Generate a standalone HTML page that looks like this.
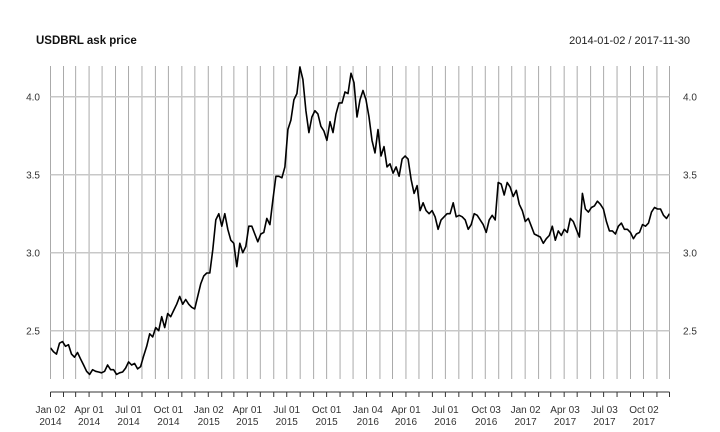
<!DOCTYPE html>
<html><head><meta charset="utf-8"><style>
html,body{margin:0;padding:0;background:#fff;}
svg{display:block;font-family:"Liberation Sans",sans-serif;}
</style></head><body>
<svg id="chart" width="720" height="432">
<text x="36" y="44" font-size="11.5" font-weight="bold" fill="#111">USDBRL ask price</text>
<text x="690" y="44" font-size="11" fill="#222" text-anchor="end">2014-01-02 / 2017-11-30</text>
<g id="grid"></g><g id="series"></g><g id="axes"></g>
</svg>
<script>
const startDate = "2014-01-02";
const endDate = "2017-11-30";
const yTicks = [2.5, 3.0, 3.5, 4.0];
const xLabelDates = ["2014-01-02","2014-04-01","2014-07-01","2014-10-01","2015-01-02","2015-04-01","2015-07-01","2015-10-01","2016-01-04","2016-04-01","2016-07-01","2016-10-03","2017-01-02","2017-04-03","2017-07-03","2017-10-02"];
const prices = [2.39,2.365,2.35,2.42,2.43,2.40,2.41,2.35,2.33,2.36,2.32,2.28,2.24,2.22,2.25,2.24,2.235,2.23,2.24,2.28,2.25,2.25,2.22,2.23,2.235,2.26,2.30,2.28,2.29,2.255,2.27,2.34,2.40,2.48,2.46,2.52,2.50,2.59,2.52,2.61,2.59,2.63,2.67,2.72,2.67,2.70,2.67,2.65,2.64,2.72,2.80,2.85,2.87,2.87,3.02,3.21,3.25,3.17,3.25,3.15,3.08,3.06,2.91,3.06,3.00,3.04,3.17,3.17,3.12,3.07,3.12,3.13,3.22,3.18,3.34,3.49,3.49,3.48,3.55,3.79,3.85,3.98,4.02,4.19,4.11,3.91,3.77,3.87,3.91,3.89,3.81,3.78,3.72,3.84,3.77,3.89,3.96,3.96,4.03,4.02,4.15,4.09,3.87,3.98,4.04,3.98,3.87,3.72,3.64,3.79,3.62,3.68,3.55,3.57,3.51,3.55,3.49,3.60,3.62,3.60,3.47,3.38,3.43,3.27,3.32,3.27,3.25,3.27,3.23,3.15,3.21,3.23,3.25,3.25,3.32,3.23,3.24,3.23,3.21,3.15,3.18,3.25,3.24,3.21,3.18,3.13,3.21,3.24,3.21,3.45,3.44,3.37,3.45,3.42,3.36,3.40,3.31,3.27,3.20,3.22,3.17,3.12,3.11,3.10,3.06,3.09,3.11,3.17,3.08,3.14,3.11,3.15,3.13,3.22,3.20,3.15,3.10,3.38,3.28,3.26,3.29,3.30,3.33,3.31,3.28,3.20,3.14,3.14,3.12,3.17,3.19,3.15,3.15,3.13,3.09,3.12,3.13,3.18,3.17,3.19,3.26,3.29,3.28,3.28,3.24,3.22,3.25];

const NS="http://www.w3.org/2000/svg";
const L=50.5,R=669.5,T=66,B=379,AX=392;
const t0=Date.parse(startDate),t1=Date.parse(endDate);
function xDate(d){return L+(Date.parse(d)-t0)/(t1-t0)*(R-L);}
function xIdx(i){return L+i/(prices.length-1)*(R-L);}
function yVal(v){return 96.7+(4-v)*156;}
function mk(tag,attrs,parent){const e=document.createElementNS(NS,tag);for(const k in attrs)e.setAttribute(k,attrs[k]);parent.appendChild(e);return e;}
const grid=document.getElementById('grid'),axes=document.getElementById('axes'),series=document.getElementById('series');
// monthly grid lines
const months=[];
for(let y=2014;y<=2017;y++)for(let m=0;m<12;m++){const d=new Date(Date.UTC(y,m,1));if(d.getTime()<t0||d.getTime()>t1)continue;months.push(d.toISOString().slice(0,10));}
const gridDates=[startDate].concat(months.filter(d=>d!=="2014-01-01")).concat([endDate]);
gridDates.forEach(d=>{const x=xDate(d);
 const g=mk('line',{x1:x,x2:x,y1:T,y2:B,stroke:'#aaa','stroke-width':1},grid);
 
 
 const tk=mk('line',{x1:x,x2:x,y1:AX,y2:AX+5,stroke:'#333','stroke-width':1},axes);
 
 
});
const axl=mk('line',{x1:L,x2:R,y1:AX,y2:AX,stroke:'#333','stroke-width':1},axes);


yTicks.forEach(v=>{const y=yVal(v);
 const g=mk('line',{x1:L,x2:R,y1:y,y2:y,stroke:'#c8c8c8','stroke-width':1.5},grid);
 
 
 const a=mk('text',{x:40,y:y+4,'font-size':10,fill:'#333','text-anchor':'end'},axes);a.textContent=v.toFixed(1);
 
 
 const b=mk('text',{x:683,y:y+4,'font-size':10,fill:'#333'},axes);b.textContent=v.toFixed(1);
 
 
});
const mn=["Jan","Feb","Mar","Apr","May","Jun","Jul","Aug","Sep","Oct","Nov","Dec"];
xLabelDates.forEach(d=>{const x=xDate(d);const p=d.split('-');
 const a=mk('text',{x:x,y:413,'font-size':10,fill:'#333','text-anchor':'middle'},axes);a.textContent=mn[+p[1]-1]+" "+p[2];
 
 
 const b=mk('text',{x:x,y:425,'font-size':10,fill:'#333','text-anchor':'middle'},axes);b.textContent=p[0];
 
 
});
const cp=mk('clipPath',{id:'clip'},series);mk('rect',{x:L,y:T,width:R-L,height:B-T},cp);
const pts=prices.map((v,i)=>xIdx(i).toFixed(1)+","+yVal(v).toFixed(1)).join(" ");
const pl=mk('polyline',{points:pts,fill:'none',stroke:'#000','stroke-width':1.6,'stroke-linejoin':'round','clip-path':'url(#clip)'},series);


</script>
</body></html>
